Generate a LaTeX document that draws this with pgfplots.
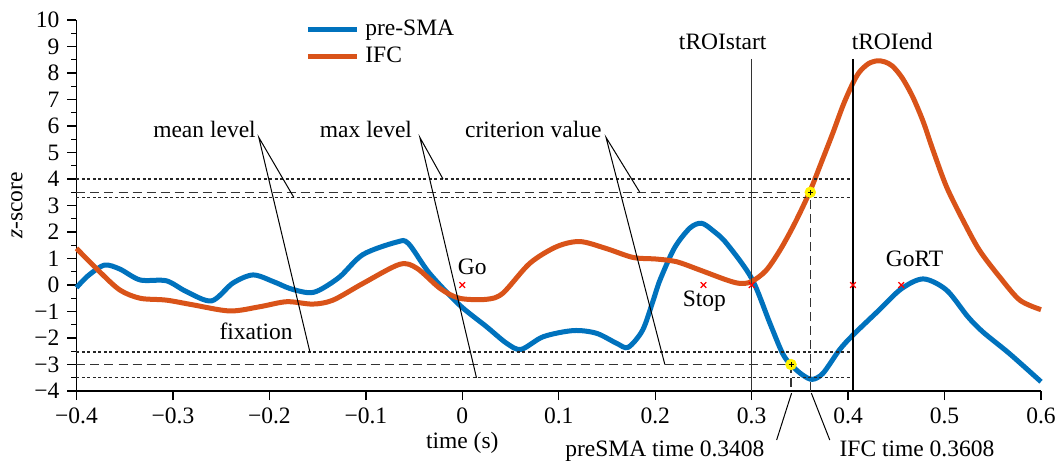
\documentclass[border=0pt]{standalone}
\usepackage{fontspec}
\setmainfont{Liberation Serif}
\usepackage{pgfplots}
\pgfplotsset{compat=1.18}
\definecolor{cblue}{RGB}{0,114,189}
\definecolor{corange}{RGB}{217,83,25}
\begin{document}
\fontsize{23.5}{28}\selectfont
\begin{tikzpicture}
\begin{axis}[
  scale only axis, width=964.5pt, height=371pt,
  xmin=-0.4, xmax=0.6, ymin=-4, ymax=10,
  axis x line*=bottom, axis y line*=left,
  axis line style={line width=1.5pt},
  tick align=outside,
  major tick length=9pt, minor tick length=5pt,
  tick style={line width=1.3pt, black},
  tick label style={font=\rmfamily},
  xtick={-0.4,-0.3,-0.2,-0.1,0,0.1,0.2,0.3,0.4,0.5,0.6},
  xticklabels={−0.4,−0.3,−0.2,−0.1,0,0.1,0.2,0.3,0.4,0.5,0.6},
  ytick={-4,-3,-2,-1,0,1,2,3,4,5,6,7,8,9,10},
  yticklabels={−4,−3,−2,−1,0,1,2,3,4,5,6,7,8,9,10},
  minor y tick num=1,
  xlabel={time (s)},
  ylabel={\textit{z}-score},
  every axis x label/.style={at={(axis description cs:0.4,0)}, anchor=base, yshift=-57pt},
  every axis y label/.style={at={([xshift=-54pt]axis description cs:0,0.5)}, rotate=90, anchor=base},
  clip=false,
  legend style={draw=none, fill=none, at={(axis cs:-0.166,10.15)}, anchor=north west,
    nodes={inner sep=2pt}, row sep=4pt, column sep=4pt, cells={anchor=west}},
  legend image code/.code={\draw[#1] (0pt,0pt) -- (49pt,0pt);},
]
\addplot[cblue, line width=5pt, smooth] coordinates {
(-0.400,-0.10) (-0.388,0.35) (-0.371,0.75) (-0.355,0.60) (-0.334,0.19) (-0.307,0.16)
(-0.286,-0.25) (-0.260,-0.60) (-0.238,0.07) (-0.217,0.38) (-0.196,0.13) (-0.179,-0.13)
(-0.160,-0.29) (-0.148,-0.19) (-0.127,0.31) (-0.103,1.15) (-0.068,1.62) (-0.056,1.57)
(-0.034,0.44) (-0.003,-0.75) (0.025,-1.57) (0.046,-2.20) (0.061,-2.43) (0.084,-1.95)
(0.115,-1.72) (0.139,-1.82) (0.160,-2.20) (0.172,-2.35) (0.187,-1.70) (0.198,-0.57)
(0.205,0.19) (0.220,1.40) (0.236,2.15) (0.248,2.33) (0.260,2.05) (0.274,1.57)
(0.300,0.25) (0.319,-1.45) (0.332,-2.58) (0.341,-3.02) (0.353,-3.40) (0.363,-3.56)
(0.374,-3.33) (0.391,-2.45) (0.405,-1.89) (0.432,-0.95) (0.455,-0.15) (0.478,0.23)
(0.502,-0.19) (0.524,-1.19) (0.540,-1.78) (0.567,-2.58) (0.600,-3.65)
};
\addlegendentry{pre-SMA}
\addplot[corange, line width=5pt, smooth] coordinates {
(-0.400,1.38) (-0.376,0.50) (-0.355,-0.19) (-0.334,-0.50) (-0.307,-0.57) (-0.279,-0.75)
(-0.241,-0.98) (-0.210,-0.82) (-0.182,-0.63) (-0.155,-0.72) (-0.134,-0.57) (-0.103,0.06)
(-0.065,0.78) (-0.047,0.63) (-0.023,-0.13) (-0.003,-0.50) (0.025,-0.54) (0.042,-0.31)
(0.070,0.82) (0.098,1.45) (0.122,1.64) (0.149,1.38) (0.177,1.04) (0.201,0.98)
(0.222,0.88) (0.246,0.57) (0.274,0.19) (0.288,0.06) (0.300,0.13) (0.315,0.55) (0.330,1.35)
(0.345,2.35) (0.360,3.50) (0.372,4.60) (0.384,5.72) (0.395,6.80) (0.405,7.62)
(0.412,8.05) (0.421,8.35) (0.430,8.46) (0.438,8.42) (0.446,8.26) (0.456,7.82)
(0.467,7.10) (0.478,6.15) (0.488,5.09) (0.502,3.71) (0.519,2.45) (0.536,1.32)
(0.557,0.31) (0.578,-0.57) (0.600,-0.93)
};
\addlegendentry{IFC}
% threshold lines
\addplot[forget plot, black!85, line width=1.2pt, dash pattern=on 3pt off 2.5pt] coordinates {(-0.4,4) (0.405,4)};
\addplot[forget plot, black!85, line width=1.2pt, dash pattern=on 3pt off 2.5pt] coordinates {(-0.4,3.3) (0.405,3.3)};
\addplot[forget plot, black!85, line width=1.2pt, dash pattern=on 3pt off 2.5pt] coordinates {(-0.4,-2.53) (0.405,-2.53)};
\addplot[forget plot, black!85, line width=1.2pt, dash pattern=on 3pt off 2.5pt] coordinates {(-0.4,-3.5) (0.405,-3.5)};
\addplot[forget plot, black!80, line width=1.3pt, dash pattern=on 9pt off 5pt] coordinates {(-0.4,3.5) (0.3608,3.5) (0.3608,-4)};
\addplot[forget plot, black!80, line width=1.3pt, dash pattern=on 9pt off 5pt] coordinates {(-0.4,-3) (0.3408,-3) (0.3408,-4)};
% ROI lines
\addplot[forget plot, black!80, line width=1.6pt] coordinates {(0.3,8.53) (0.3,-4)};
\addplot[forget plot, black, line width=1.4pt] coordinates {(0.405,8.53) (0.405,-4)};
% leader lines
\addplot[forget plot, black, line width=1pt] coordinates {(-0.1746,3.3) (-0.211,5.57) (-0.158,-2.53)};
\addplot[forget plot, black, line width=1pt] coordinates {(-0.02,4.0) (-0.044,5.57) (0.0147,-3.5)};
\addplot[forget plot, black, line width=1pt] coordinates {(0.184,3.5) (0.149,5.57) (0.21,-3.0)};
\addplot[forget plot, black, line width=1pt] coordinates {(0.3414,-4.08) (0.3259,-5.85)};
\addplot[forget plot, black, line width=1pt] coordinates {(0.3619,-4.08) (0.381,-5.85)};
% event markers
\addplot[forget plot, only marks, mark=x, red, mark size=4pt, mark options={line width=1.2pt}] coordinates {(0,0) (0.25,0) (0.3,0) (0.405,0) (0.455,0)};
% criterion points
\addplot[forget plot, only marks, mark=*, mark size=5.5pt, mark options={fill=yellow, draw=yellow}] coordinates {(0.3408,-3) (0.3608,3.5)};
\addplot[forget plot, only marks, mark=+, mark size=2.5pt, mark options={black, line width=1pt}] coordinates {(0.3408,-3) (0.3608,3.5)};
% texts
\node[anchor=base east, inner sep=0pt] at (axis cs:-0.214,5.58) {mean level};
\node[anchor=base east, inner sep=0pt] at (axis cs:-0.052,5.58) {max level};
\node[anchor=base east, inner sep=0pt] at (axis cs:0.1445,5.58) {criterion value};
\node[anchor=base east, inner sep=0pt] at (axis cs:-0.1756,-2.04) {fixation};
\node[anchor=base, inner sep=0pt] at (axis cs:0.0104,0.38) {Go};
\node[anchor=base, inner sep=0pt] at (axis cs:0.251,-0.83) {Stop};
\node[anchor=base, inner sep=0pt] at (axis cs:0.469,0.68) {GoRT};
\node[anchor=base, inner sep=0pt] at (axis cs:0.27,8.87) {tROIstart};
\node[anchor=base west, inner sep=0pt] at (axis cs:0.4036,8.87) {tROIend};
\node[anchor=base east, inner sep=0pt] at (axis cs:0.3135,-6.48) {preSMA time 0.3408};
\node[anchor=base west, inner sep=0pt] at (axis cs:0.391,-6.48) {IFC time 0.3608};
\coordinate (sw) at (rel axis cs:0,0);
\coordinate (ne) at (rel axis cs:1,1);
\end{axis}
\pgfresetboundingbox
\path[use as bounding box] ([shift={(-76.5pt,-73pt)}]sw) rectangle ([shift={(20pt,20pt)}]ne);
\end{tikzpicture}
\end{document}
